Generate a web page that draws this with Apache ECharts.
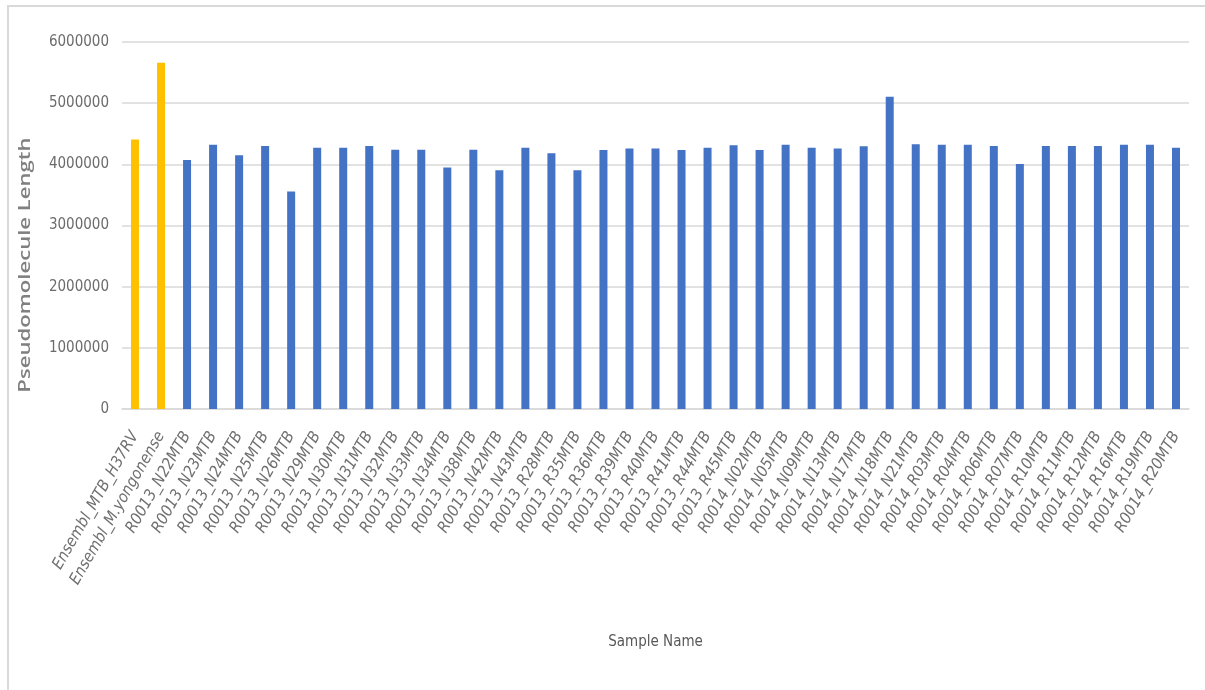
<!DOCTYPE html>
<html>
<head>
<meta charset="utf-8">
<script src="https://cdn.jsdelivr.net/npm/echarts@6/dist/echarts.min.js"></script>
<style>
  html, body { margin: 0; padding: 0; background: #fff; }
  #frame { position: absolute; left: 7px; top: 5px; width: 1198px; height: 685px;
           border-left: 2px solid #d9d9d9; border-top: 2px solid #d9d9d9; }
  #chart { position: absolute; left: 0; top: 0; width: 1205px; height: 690px; }
</style>
</head>
<body>
<div id="frame"></div>
<div id="chart"></div>
<script>
const categories = [
  "Ensembl_MTB_H37RV", "Ensembl_M.yongonense",
  "R0013_N22MTB", "R0013_N23MTB", "R0013_N24MTB", "R0013_N25MTB", "R0013_N26MTB",
  "R0013_N29MTB", "R0013_N30MTB", "R0013_N31MTB", "R0013_N32MTB", "R0013_N33MTB",
  "R0013_N34MTB", "R0013_N38MTB", "R0013_N42MTB", "R0013_N43MTB", "R0013_R28MTB",
  "R0013_R35MTB", "R0013_R36MTB", "R0013_R39MTB", "R0013_R40MTB", "R0013_R41MTB",
  "R0013_R44MTB", "R0013_R45MTB",
  "R0014_N02MTB", "R0014_N05MTB", "R0014_N09MTB", "R0014_N13MTB", "R0014_N17MTB",
  "R0014_N18MTB", "R0014_N21MTB", "R0014_R03MTB", "R0014_R04MTB", "R0014_R06MTB",
  "R0014_R07MTB", "R0014_R10MTB", "R0014_R11MTB", "R0014_R12MTB", "R0014_R16MTB",
  "R0014_R19MTB", "R0014_R20MTB"
];
const lengths = [
  4405000, 5660000,
  4070000, 4320000, 4150000, 4300000, 3556000,
  4270000, 4270000, 4300000, 4240000, 4240000,
  3950000, 4240000, 3905000, 4270000, 4180000,
  3905000, 4235000, 4260000, 4260000, 4235000,
  4270000, 4310000,
  4235000, 4320000, 4270000, 4260000, 4295000,
  5106000, 4330000, 4320000, 4320000, 4300000,
  4006000, 4300000, 4300000, 4300000, 4320000,
  4320000, 4270000
];
const referenceCount = 2; // first two are reference genomes (gold)
const yTicks = { min: 0, max: 6000000, interval: 1000000 };
const colors = { reference: "#FFC000", sample: "#4472C4" };

const narrow = "'DejaVu Sans Condensed', 'Liberation Sans Narrow', sans-serif";
const chart = echarts.init(document.getElementById("chart"), null, { renderer: "canvas" });
chart.setOption({
  animation: false,
  backgroundColor: "transparent",
  grid: { left: 122, right: 16, top: 42, bottom: 281, containLabel: false },
  xAxis: {
    type: "category",
    data: categories,
    name: "Sample Name",
    nameLocation: "middle",
    nameGap: 226,
    nameTextStyle: { color: "#595959", fontSize: 15, fontFamily: narrow },
    axisLine: { show: true, lineStyle: { color: "#d9d9d9", width: 1.5 } },
    axisTick: { show: false },
    axisLabel: {
      interval: 0, rotate: 60, margin: 24,
      color: "#707070", fontSize: 16, fontStyle: "italic",
      fontFamily: narrow
    }
  },
  yAxis: {
    type: "value",
    min: yTicks.min, max: yTicks.max, interval: yTicks.interval,
    axisLine: { show: false },
    axisTick: { show: false },
    splitLine: { lineStyle: { color: "#d9d9d9", width: 1.5 } },
    axisLabel: {
      color: "#6b6b6b", fontSize: 15, margin: 13,
      fontFamily: narrow,
      formatter: (v) => String(v)
    }
  },
  graphic: [{
    type: "text",
    x: 25, y: 265,
    rotation: Math.PI / 2,
    scaleX: 1.3,
    style: {
      text: "Pseudomolecule Length",
      fill: "#808080",
      font: "600 17px 'Open Sans', sans-serif",
      align: "center",
      verticalAlign: "middle"
    }
  }],
  series: [{
    type: "bar",
    data: lengths.map((v, i) => ({
      value: v,
      itemStyle: { color: i < referenceCount ? colors.reference : colors.sample }
    })),
    barWidth: 8
  }]
});
</script>
</body>
</html>
